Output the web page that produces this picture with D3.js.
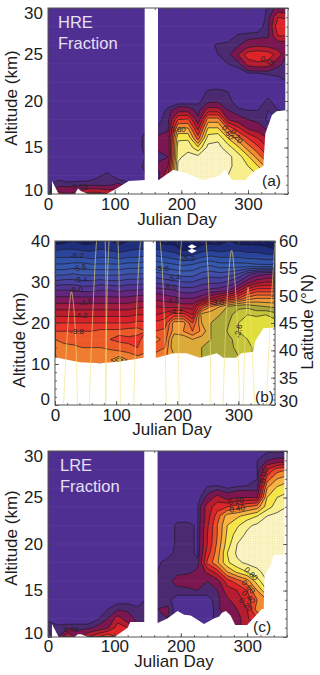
<!DOCTYPE html>
<html>
<head>
<meta charset="utf-8">
<script src="https://cdnjs.cloudflare.com/ajax/libs/d3/7.8.5/d3.min.js"></script>
<style>
  body { margin: 0; background: #fff; }
  text { font-family: "Liberation Sans", Arial, sans-serif; fill: #1c1c1c; }
  .axis path { display: none; }
  .axis line { stroke: #444; stroke-width: 0.8; }
</style>
</head>
<body>
<div id="chart"></div>
<script>
// grid columns shared by all three panels
var days = [0,15,30,45,60,75,90,105,120,135,150,165,180,195,210,225,240,255,270,285,300,315,330,345,360];

// HRE fraction, one row per altitude, top row first
var hreAlts = [30,29,28,27,26,25,24,23,22,21,20,19,18,17,16,15,14,13,12,11,10];
var hreRows = [
  [0,0,0,0,0,0,0,0,0,0,0,0,0,0,0,0,0,0,0,0,0,0,.06,.12,.08],
  [0,0,0,0,0,0,0,0,0,0,0,0,0,0,0,0,0,0,0,0,0,0,.07,.3,.28],
  [0,0,0,0,0,0,0,0,0,0,0,0,0,0,0,0,0,0,0,0,0,.02,.08,.38,.38],
  [0,0,0,0,0,0,0,0,0,0,0,0,0,0,0,0,0,0,.01,.06,.07,.07,.09,.3,.3],
  [0,0,0,0,0,0,0,0,0,0,0,0,0,0,0,0,.03,.06,.07,.09,.15,.18,.16,.13,.12],
  [0,0,0,0,0,0,0,0,0,0,0,0,0,0,0,0,0,.05,.07,.2,.36,.38,.36,.26,.08],
  [0,0,0,0,0,0,0,0,0,0,0,0,0,0,0,0,0,0,.05,.07,.24,.28,.26,.12,.07],
  [0,0,0,0,0,0,0,0,0,0,0,0,0,0,0,0,0,0,0,.02,.05,.05,.06,.06,.06],
  [0,0,0,0,0,0,0,0,0,0,0,0,0,0,0,0,0,0,0,0,0,0,0,.03,.05],
  [0,0,0,0,0,0,0,0,0,0,0,0,0,0,0,.01,.06,.07,.05,0,0,0,0,0,0],
  [0,0,0,0,0,0,0,0,0,0,0,0,0,0,0,.04,.07,.08,.07,.02,0,0,.07,0,0],
  [0,0,0,0,0,0,0,0,0,0,0,0,.07,.16,.16,.07,.25,.25,.1,.06,.05,.05,.05,.05,.05],
  [0,0,0,0,0,0,0,0,0,0,.03,.03,.08,.4,.42,.12,.55,.55,.2,.14,.1,.08,.04,.05,.05],
  [0,0,0,0,0,0,0,0,0,0,.06,.06,.09,.62,.62,.28,.72,.72,.5,.34,.2,.15,.08,.05,.05],
  [0,0,0,0,0,0,0,0,0,0,.12,.12,.13,.78,.78,.45,.85,.88,.7,.55,.4,.3,.2,.1,.05],
  [0,0,0,0,0,0,0,0,0,0,.12,.12,.12,.85,.87,.72,.93,.93,.85,.72,.55,.42,.3,.1,.05],
  [0,0,0,0,0,0,0,0,0,0,.07,.07,.1,.88,.93,.93,.95,.95,.93,.85,.72,.55,.4,.1,.05],
  [0,0,0,0,0,0,0,0,0,0,.12,.12,.2,.92,.92,.95,.95,.95,.92,.87,.8,.7,.55,.1,.05],
  [0,.03,0,0,0,.04,.07,0,0,0,.06,.06,.3,.93,.93,.95,.95,.95,.9,.88,.85,.8,.7,.1,.05],
  [.04,.07,.07,.08,.08,.08,.08,.12,.07,.04,.06,.06,.4,.93,.93,.95,.95,.95,.9,.88,.85,.8,.7,.1,.05],
  [0,.25,.2,.25,.35,.35,.3,.3,.15,.05,.06,.06,.4,.93,.93,.95,.95,.95,.9,.88,.85,.8,.7,.1,.05]
];

// LRE fraction
var lreAlts = hreAlts;
var lreRows = [
  [0,0,0,0,0,0,0,0,0,0,0,0,0,0,0,0,0,0,0,0,0,0,.04,.04,.04],
  [0,0,0,0,0,0,0,0,0,0,0,0,0,0,0,0,0,0,0,0,0,.05,.1,.12,.12],
  [0,0,0,0,0,0,0,0,0,0,0,0,0,0,0,0,0,0,0,0,0,.05,.3,.45,.5],
  [0,0,0,0,0,0,0,0,0,0,0,0,0,0,0,0,0,0,0,0,0,.05,.45,.6,.65],
  [0,0,0,0,0,0,0,0,0,0,0,0,0,0,0,0,.06,.07,.05,.06,.07,.07,.6,.72,.78],
  [0,0,0,0,0,0,0,0,0,0,0,0,0,0,0,.02,.12,.25,.15,.2,.2,.2,.7,.8,.82],
  [0,0,0,0,0,0,0,0,0,0,0,0,0,0,0,.04,.25,.35,.4,.45,.5,.55,.75,.85,.9],
  [0,0,0,0,0,0,0,0,0,0,0,0,0,.01,.01,.04,.25,.45,.65,.68,.74,.8,.9,.93,.95],
  [0,0,0,0,0,0,0,0,0,0,0,0,0,.07,.07,.04,.28,.5,.7,.78,.88,.92,.95,.95,.95],
  [0,0,0,0,0,0,0,0,0,0,0,0,0,.07,.07,.04,.3,.5,.72,.85,.92,.95,.95,.95,.95],
  [0,0,0,0,0,0,0,0,0,0,0,0,0,.07,.07,.04,.3,.52,.75,.9,.93,.95,.95,.91,.95],
  [0,0,0,0,0,0,0,0,0,0,0,0,.03,.07,.07,.04,.35,.55,.8,.92,.93,.95,.95,.9,.95],
  [0,0,0,0,0,0,0,0,0,0,.04,.04,.07,.09,.09,.06,.42,.58,.78,.88,.92,.93,.95,.95,.95],
  [0,0,0,0,0,0,0,0,0,0,.05,.05,.08,.08,.08,.12,.22,.35,.6,.72,.8,.88,.93,.95,.95],
  [0,0,0,0,0,0,0,0,0,0,.05,.05,.07,.14,.16,.2,.1,.15,.35,.45,.55,.75,.9,.8,.8],
  [0,0,0,0,0,0,0,0,0,0,.06,.06,.06,.07,.07,.1,.07,.1,.25,.3,.4,.6,.8,.7,.7],
  [0,0,0,0,0,.01,.02,.02,.02,.02,.06,.06,.06,.03,.03,0,.03,.07,.18,.25,.35,.5,.6,.6,.6],
  [0,0,0,0,0,0,.05,.09,.09,.06,.1,.1,.12,0,0,0,0,.08,.17,.2,.3,.55,.55,.55,.55],
  [.04,0,0,0,0,.04,.1,.25,.13,.08,.06,.06,.1,0,0,0,0,.08,.1,.15,.28,.4,.4,.4,.4],
  [.07,.07,.08,.08,.08,.12,.18,.35,.3,.12,.06,.06,.1,0,0,0,0,.08,.1,.15,.28,.3,.3,.3,.3],
  [0,.1,.3,.15,.3,.4,.5,.4,.3,.1,.06,.06,.1,0,0,0,0,.08,.1,.15,.28,.3,.3,.3,.3]
];

// log10 mixing ratio for the middle panel
var mixAlts = [40,38,36,34,32,30,28,26,24,22,20,18,16,14,12,11,10];
var mixRows = [
  [-6.7,-6.7,-6.6,-6.7,-6.7,-6.6,-6.6,-6.7,-6.6,-6.6,-6.6,-6.6,-6.7,-6.7,-6.7,-6.6,-6.7,-6.7,-6.7,-6.6,-6.7,-6.7,-6.7,-6.7,-6.7],
  [-6.45,-6.4,-6.4,-6.45,-6.45,-6.4,-6.45,-6.5,-6.45,-6.4,-6.4,-6.4,-6.45,-6.5,-6.65,-6.65,-6.5,-6.45,-6.5,-6.45,-6.45,-6.5,-6.5,-6.55,-6.6],
  [-6.2,-6.2,-6.2,-6.2,-6.25,-6.2,-6.2,-6.25,-6.2,-6.2,-6.15,-6.15,-6.2,-6.25,-6.35,-6.3,-6.2,-6.15,-6.2,-6.2,-6.2,-6.25,-6.25,-6.3,-6.3],
  [-5.95,-5.95,-5.9,-5.9,-5.95,-5.95,-5.95,-5.95,-5.9,-5.9,-5.85,-5.85,-5.9,-5.95,-6.0,-5.95,-5.85,-5.8,-5.9,-5.9,-5.9,-5.9,-5.95,-5.95,-5.95],
  [-5.65,-5.65,-5.6,-5.65,-5.65,-5.65,-5.65,-5.65,-5.6,-5.6,-5.6,-5.55,-5.6,-5.65,-5.7,-5.7,-5.55,-5.5,-5.55,-5.5,-5.4,-5.1,-4.9,-4.85,-4.8],
  [-5.35,-5.3,-5.3,-5.35,-5.35,-5.3,-5.35,-5.35,-5.3,-5.3,-5.25,-5.25,-5.3,-5.35,-5.4,-5.4,-5.3,-5.25,-5.25,-5.15,-5.0,-4.7,-4.5,-4.4,-4.4],
  [-5.0,-5.0,-5.0,-5.05,-5.05,-5.0,-5.0,-5.05,-5.0,-5.0,-4.95,-4.9,-4.95,-5.0,-5.1,-5.1,-5.0,-4.95,-4.9,-4.8,-4.5,-4.1,-3.9,-3.9,-3.9],
  [-4.75,-4.75,-4.75,-4.75,-4.75,-4.75,-4.75,-4.75,-4.75,-4.7,-4.7,-4.65,-4.7,-4.75,-4.8,-4.8,-4.7,-4.4,-4.2,-4.0,-3.8,-3.5,-3.4,-3.4,-3.4],
  [-4.5,-4.5,-4.5,-4.5,-4.5,-4.5,-4.5,-4.5,-4.5,-4.45,-4.4,-4.4,-4.45,-4.45,-4.5,-4.5,-3.8,-3.4,-3.2,-2.95,-2.85,-2.85,-2.95,-3.0,-3.05],
  [-4.25,-4.25,-4.25,-4.25,-4.25,-4.25,-4.25,-4.25,-4.25,-4.2,-4.2,-4.2,-4.1,-3.9,-3.9,-4.2,-3.1,-3.05,-3.0,-2.85,-2.7,-2.6,-2.65,-2.6,-2.7],
  [-4.0,-4.0,-4.0,-4.0,-4.0,-4.0,-4.0,-4.0,-4.0,-3.95,-3.95,-3.95,-3.9,-3.3,-3.3,-3.8,-3.2,-3.0,-2.95,-2.8,-2.6,-2.45,-2.4,-2.4,-2.5],
  [-3.8,-3.8,-3.8,-3.8,-3.8,-3.75,-3.75,-3.75,-3.7,-3.7,-3.8,-3.8,-3.75,-3.3,-3.4,-3.6,-3.35,-3.0,-2.95,-2.75,-2.6,-2.5,-2.45,-2.45,-2.45],
  [-3.6,-3.65,-3.7,-3.7,-3.75,-3.75,-3.8,-3.85,-3.85,-3.9,-3.6,-3.5,-3.7,-3.0,-3.0,-3.2,-3.1,-3.0,-2.95,-2.85,-2.7,-2.6,-2.5,-2.5,-2.5],
  [-3.5,-3.55,-3.55,-3.6,-3.6,-3.6,-3.65,-3.7,-3.75,-3.8,-3.75,-3.75,-3.6,-3.0,-3.0,-3.05,-3.0,-2.95,-2.9,-2.85,-2.75,-2.65,-2.55,-2.55,-2.55],
  [-3.45,-3.45,-3.45,-3.45,-3.45,-3.45,-3.45,-3.45,-3.5,-3.6,-3.5,-3.5,-3.45,-3.2,-3.2,-3.1,-3.0,-2.95,-2.9,-2.85,-2.8,-2.65,-2.55,-2.55,-2.55],
  [-3.4,-3.4,-3.4,-3.4,-3.4,-3.4,-3.45,-3.0,-3.45,-3.45,-3.45,-3.45,-3.4,-3.2,-3.2,-3.1,-3.0,-2.95,-2.9,-2.85,-2.8,-2.7,-2.6,-2.6,-2.6],
  [-3.4,-3.4,-3.4,-3.4,-3.4,-3.4,-3.4,-3.4,-3.4,-3.4,-3.4,-3.4,-3.4,-3.2,-3.2,-3.1,-3.0,-2.95,-2.9,-2.85,-2.8,-2.7,-2.6,-2.6,-2.6]
];

// contour levels and their fills (first colour sits under the lowest level)
var fracLevels = [.05,.1,.2,.3,.4,.5,.6,.7,.8,.9];
var fracColors = ["#4f2f92","#4b2a72","#7b1650","#b51c30","#dd2429","#ec4a28","#f28a30","#f9b441","#f6e549","#f8ef8c","#fbf5c4"];
var mixLevels = d3.range(-6.6,-2.39,.2);
var mixColors = ["#161c5c","#1f2f7e","#2a449c","#3052a8","#3557ad","#3a55ab","#3f4ba6","#47409e","#52338f","#62267c","#7f1a5e","#a01a40","#bd1c2e","#d8222a","#e8352a","#ec5a2a","#ef7c2f","#f39a38","#dcaa38","#aaa838","#c6c43a","#e0de3c","#f0ee48"];

// lower edge of the data
var hreFloorDays = [0,6,6,16,30,40,45,50,60,88,103,121,146,166,188,208,233,258,266,276,296,308,323,326,336,343,356,356,360];
var hreFloorAlts = [10,10,11.4,10,10,10,10.6,10.3,10,10,10.6,11.4,11.5,11.5,12.6,12.2,11.5,12,12.6,11.5,11.5,12.4,13,16.5,18.5,18.9,19,30,30];
var lreFloorDays = [0,6,6,16,30,40,45,50,60,100,120,124,146,165,180,195,205,215,235,250,258,262,268,275,282,300,322,325,326,336,339,356,356,360];
var lreFloorAlts = [10,10,11.4,10,10,10,10.3,10.3,10,10,11,11.6,11.6,11.5,12,12.8,12.4,12.3,11.4,12,12.2,12.6,12.8,12.3,11.3,11.3,13,13,16.5,17.8,18.8,18.9,30,30];
var mixFloorDays = [0,4,4,41,74,106,145,166,194,215,237,265,275,296,305,325,327,341,360];
var mixFloorAlts = [11.5,11.5,11.5,10.4,10.2,10.6,11.5,11.5,12.6,12.6,11.5,12.6,11.5,11.5,12.6,13,15.4,18.7,18.9];

// orbit latitude tracks drawn over the middle panel
var trackDays = [[14,22,27,32,37],[56,68,76,82,83],[83,90,98,103,107],[129,140,155,172,182],[203,207,227,247,255],[275,282,289,296,302],[308,312,316,320,327],[346,352,360]];
var trackLats = [[30,46,50.7,46,30],[30,60,68,60,30],[30,62,66,60,30],[30,60,70,60,30],[30,60,72,60,30],[30,50,58.3,50,30],[30,45,51.5,45,30],[30,45,60]];

// contour labels: text, day, altitude, rotation
var hreLabels = [["0.05",48,10.8,0],["0.05",330,24.3,25],["0.20",283,16.2,55],["0.60",270,16.6,55],["0.80",195,17,0]];
var lreLabels = [["0.05",35,10.8,0],["0.20",283,24.6,-10],["0.40",285,23.8,-10],["0.05",325,27.4,-80],["0.80",306,16.8,45],["0.60",302,15.4,45],["0.40",302,14.3,45],["0.20",298,13.5,45]];
var mixLabels = [["-6.2",36,36.5,0],["-5.8",40,33.5,-10],["-5.4",42,30.8,0],["-5.0",34,28.2,0],["-4.6",50,25,-10],["-4.2",42,21.8,0],["-3.8",36,18,0],["-5.8",175,33.4,0],["-5.4",195,31,-10],["-5.0",188,28.8,0],["-4.6",192,25.6,0],["-4.2",198,22.8,0],["-5.2",218,35.7,0],["-3.0",265,25,0],["-2.6",300,18,-80]];

var dayTicks = [0,100,200,300];
var kmTicks = [10,15,20,25,30];
var midKmTicks = [0,10,20,30,40];
var latTicks = [30,35,40,45,50,55,60];
var fontSize = 17;

var svg = d3.select("#chart").append("svg")
    .attr("width",320)
    .attr("height",675)
    .style("display","block");
var defs = svg.append("defs");

// stipple used for the highest level
var dots = defs.append("pattern").attr("id","stipple").attr("width",2.4).attr("height",2.4)
    .attr("patternUnits","userSpaceOnUse");
dots.append("rect").attr("width",2.4).attr("height",2.4).attr("fill","#fbf5c4");
dots.append("circle").attr("cx",1.2).attr("cy",1.2).attr("r",.45).attr("fill","#eedca0");

drawPanel({id:"a",left:48,right:288,top:8,bottom:194,yDomain:[10,30],yTicks:kmTicks,
    alts:hreAlts,rows:hreRows,levels:fracLevels,colors:fracColors,stipple:true,
    floorDays:hreFloorDays,floorAlts:hreFloorAlts,labels:hreLabels,
    title:["HRE","Fraction"],tag:"(a)",tagX:262,tagY:186,titleX:58,
    tickBase:210,nameBase:225,nameX:177,yNameX:17,yNameMid:98});
drawPanel({id:"b",left:55,right:275,top:241,bottom:405,yDomain:[0,40],yTicks:midKmTicks,
    alts:mixAlts,rows:mixRows,levels:mixLevels,colors:mixColors,stipple:false,
    floorDays:mixFloorDays,floorAlts:mixFloorAlts,labels:mixLabels,
    tag:"(b)",tagX:255,tagY:402,tickBase:421,nameBase:435,nameX:172,yNameX:25,yNameMid:340,mid:true});
drawPanel({id:"c",left:48,right:287,top:451,bottom:637,yDomain:[10,30],yTicks:kmTicks,
    alts:lreAlts,rows:lreRows,levels:fracLevels,colors:fracColors,stipple:true,
    floorDays:lreFloorDays,floorAlts:lreFloorAlts,labels:lreLabels,
    title:["LRE","Fraction"],tag:"(c)",tagX:253,tagY:632,titleX:60,
    tickBase:652,nameBase:667,nameX:174,yNameX:17,yNameMid:538});

function drawPanel(p){
    var x = d3.scaleLinear().domain([0,360]).range([p.left,p.right]);
    var y = d3.scaleLinear().domain(p.yDomain).range([p.bottom,p.top]);
    var g = svg.append("g").attr("id","panel-"+p.id);
    var clipId = "clip-"+p.id;
    defs.append("clipPath").attr("id",clipId).append("rect")
        .attr("x",p.left).attr("y",p.top).attr("width",p.right-p.left).attr("height",p.bottom-p.top);
    var plot = g.append("g").attr("clip-path","url(#"+clipId+")");

    // grid index to data value
    var col = d3.scaleLinear().domain(d3.range(days.length)).range(days).clamp(true);
    var row = d3.scaleLinear().domain(d3.range(p.alts.length)).range(p.alts).clamp(true);
    var proj = d3.geoTransform({point:function(cx,cy){
        this.stream.point(x(col(cx-.5)),y(row(cy-.5)));
    }});
    var path = d3.geoPath(proj);
    var bands = d3.contours().size([days.length,p.alts.length]).thresholds(p.levels)(p.rows.flat());

    plot.append("rect").attr("x",p.left).attr("y",p.top)
        .attr("width",p.right-p.left).attr("height",p.bottom-p.top).attr("fill",p.colors[0]);
    plot.selectAll(".band").data(bands).enter().append("path")
        .attr("class","band")
        .attr("d",path)
        .attr("fill",function(d,i){
            return (p.stipple && i==p.levels.length-1) ? "url(#stipple)" : p.colors[i+1];
        });
    // faint level lines across the plot
    plot.selectAll(".faint").data(d3.range(p.yDomain[0],p.yDomain[1],p.mid?4:2)).enter().append("line")
        .attr("class","faint")
        .attr("x1",p.left).attr("x2",p.right)
        .attr("y1",function(d){return y(d);}).attr("y2",function(d){return y(d);})
        .attr("stroke","#fff").attr("stroke-opacity",.07).attr("stroke-width",.7);
    plot.selectAll(".iso").data(bands).enter().append("path")
        .attr("class","iso")
        .attr("d",path)
        .attr("fill","none")
        .attr("stroke","#1e1a22")
        .attr("stroke-opacity",.85)
        .attr("stroke-width",.8);

    // white where there is no data
    var floor = d3.area().x(function(d){return x(d[0]);}).y0(p.bottom+1).y1(function(d){return y(d[1]);});
    plot.append("path").datum(d3.zip(p.floorDays,p.floorAlts)).attr("d",floor).attr("fill","#fff");
    plot.append("rect").attr("x",x(145)).attr("y",p.top).attr("width",x(165)-x(145))
        .attr("height",p.bottom-p.top).attr("fill","#fff");

    if(p.mid){
        plot.append("path").attr("fill","#fff")
            .attr("d",d3.line().x(function(d){return x(d[0]);}).y(function(d){return y(d[1]);})
                ([[217,38.6],[224,39.2],[232,38.6],[224,38.1],[232,37.6],[224,37],[217,37.6],[224,38.1]])+"Z");
        var lat = d3.scaleLinear().domain([30,60]).range([p.bottom,p.top]);
        var track = d3.line().x(function(d){return x(d[0]);}).y(function(d){return lat(d[1]);})
            .curve(d3.curveCatmullRom);
        plot.selectAll(".track").data(d3.zip(trackDays,trackLats)).enter().append("path")
            .attr("class","track")
            .attr("d",function(d){return track(d3.zip(d[0],d[1]));})
            .attr("fill","none")
            .attr("stroke","#f2e27a")
            .attr("stroke-opacity",.6)
            .attr("stroke-width",1);
    }

    plot.selectAll(".clabel").data(p.labels).enter().append("text")
        .attr("class","clabel")
        .attr("transform",function(d){return "translate("+x(d[1])+","+y(d[2])+") rotate("+d[3]+")";})
        .attr("text-anchor","middle")
        .attr("dy",".35em")
        .style("font-size","8px")
        .style("fill","#2a2228")
        .text(function(d){return d[0];});

    if(p.title){
        g.selectAll(".ptitle").data(p.title).enter().append("text")
            .attr("class","ptitle")
            .attr("x",p.titleX)
            .attr("y",function(d,i){return p.top+20+i*21;})
            .style("font-size","16.5px")
            .style("fill","#e6e0f4")
            .text(function(d){return d;});
    }
    g.append("text").attr("x",p.tagX).attr("y",p.tagY).style("font-size","15.5px").text(p.tag);

    // axes, IDL style: ticks inward on all four sides
    g.append("g").attr("class","axis").attr("transform","translate(0,"+p.bottom+")")
        .call(d3.axisBottom(x).tickValues(d3.range(0,361,20)).tickSize(-2).tickFormat(""));
    g.append("g").attr("class","axis").attr("transform","translate(0,"+p.top+")")
        .call(d3.axisTop(x).tickValues(d3.range(0,361,20)).tickSize(-2).tickFormat(""));
    g.append("g").attr("class","axis").attr("transform","translate(0,"+p.top+")")
        .call(d3.axisTop(x).tickValues(dayTicks).tickSize(-4).tickFormat(""));
    var xAxis = g.append("g").attr("class","axis").attr("transform","translate(0,"+p.bottom+")")
        .call(d3.axisBottom(x).tickValues(dayTicks).tickSize(-4).tickPadding(0));
    xAxis.selectAll("text").attr("y",p.tickBase-p.bottom).attr("dy",0).style("font-size",fontSize+"px");

    var minor = p.mid ? d3.range(0,41,2) : d3.range(10,31,1);
    g.append("g").attr("class","axis").attr("transform","translate("+p.left+",0)")
        .call(d3.axisLeft(y).tickValues(minor).tickSize(-2).tickFormat(""));
    var yAxis = g.append("g").attr("class","axis").attr("transform","translate("+p.left+",0)")
        .call(d3.axisLeft(y).tickValues(p.yTicks).tickSize(-4).tickPadding(5));
    yAxis.selectAll("text").style("font-size",fontSize+"px")
        .attr("dy",function(d){
            if(d==p.yDomain[0]) return p.mid ? "-0.05em" : "0.08em";
            if(d==p.yDomain[1]) return p.mid ? "0.35em" : "0.6em";
            return ".32em";
        });

    if(p.mid){
        var latAxisScale = d3.scaleLinear().domain([30,60]).range([p.bottom,p.top]);
        g.append("g").attr("class","axis").attr("transform","translate("+p.right+",0)")
            .call(d3.axisRight(latAxisScale).tickValues(d3.range(30,61,1)).tickSize(-2).tickFormat(""));
        var latAxis = g.append("g").attr("class","axis").attr("transform","translate("+p.right+",0)")
            .call(d3.axisRight(latAxisScale).tickValues(latTicks).tickSize(-4).tickPadding(4));
        latAxis.selectAll("text").style("font-size",fontSize+"px")
            .attr("dy",function(d){return d==30 ? "0.1em" : ".32em";});
        g.append("text")
            .attr("transform","translate(313,"+(p.top+81)+") rotate(-90)")
            .attr("text-anchor","middle")
            .style("font-size",fontSize+"px")
            .text("Latitude (°N)");
    } else {
        g.append("g").attr("class","axis").attr("transform","translate("+p.right+",0)")
            .call(d3.axisRight(y).tickValues(minor).tickSize(-2).tickFormat(""));
        g.append("g").attr("class","axis").attr("transform","translate("+p.right+",0)")
            .call(d3.axisRight(y).tickValues(p.yTicks).tickSize(-4).tickFormat(""));
    }

    g.append("rect").attr("x",p.left).attr("y",p.top)
        .attr("width",p.right-p.left).attr("height",p.bottom-p.top)
        .attr("fill","none").attr("stroke","#555").attr("stroke-width",1);

    g.append("text")
        .attr("x",p.nameX)
        .attr("y",p.nameBase)
        .attr("text-anchor","middle")
        .style("font-size",fontSize+"px")
        .text("Julian Day");
    g.append("text")
        .attr("transform","translate("+p.yNameX+","+p.yNameMid+") rotate(-90)")
        .attr("text-anchor","middle")
        .style("font-size",fontSize+"px")
        .text("Altitude (km)");
}
</script>
</body>
</html>
